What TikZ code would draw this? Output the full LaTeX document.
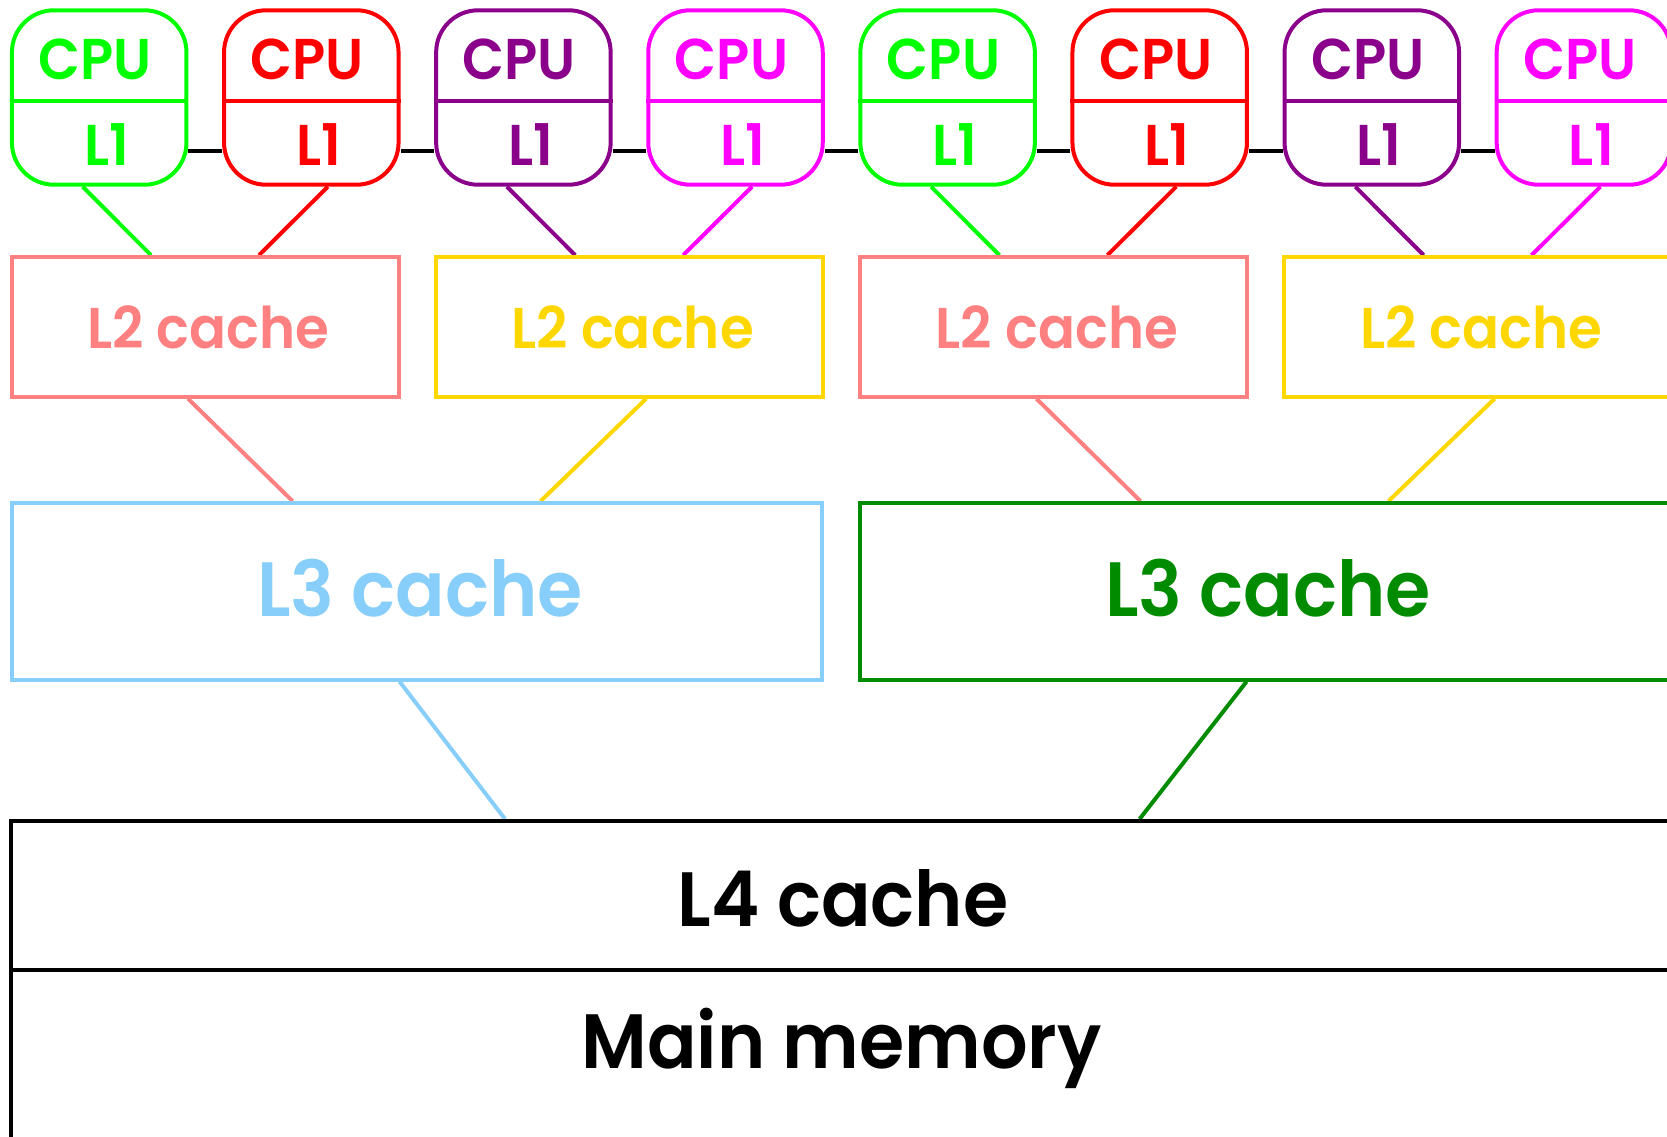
\documentclass[tikz,border=0pt]{standalone}
\usepackage{fontspec}
\setmainfont{Poppins}[BoldFont={Poppins SemiBold}, FakeStretch=0.95]
\usetikzlibrary{backgrounds}

\definecolor{cpulime}{HTML}{00FF00}
\definecolor{cpured}{HTML}{FF0000}
\definecolor{cpupurple}{HTML}{8B008B}
\definecolor{cpumagenta}{HTML}{FF00FF}
\definecolor{l2salmon}{HTML}{FF8080}
\definecolor{l2gold}{HTML}{FFD700}
\definecolor{l3sky}{HTML}{87CEFA}
\definecolor{l3green}{HTML}{008B00}

\tikzset{
  core/.style={draw, line width=4pt, fill=white, rounded corners=42pt,
    minimum width=174.5pt, minimum height=174.4pt, inner sep=0pt},
  cachebox/.style={draw, line width=4pt, fill=white, inner sep=0pt},
  smalltext/.style={font=\fontsize{57.5}{57.5}\selectfont\bfseries, inner sep=0pt, anchor=base},
  bigtext/.style={font=\fontsize{77}{77}\selectfont\bfseries, inner sep=0pt, anchor=base},
  wire/.style={line width=4pt},
}

\begin{document}
\begin{tikzpicture}[x=1pt,y=-1pt]
\useasboundingbox (0,0) rectangle (1667,1137);
\clip (0,0) rectangle (1667,1137);

% eight cores, each a CPU with its own L1
\foreach \i/\c in {0/cpulime,1/cpured,2/cpupurple,3/cpumagenta,
                   4/cpulime,5/cpured,6/cpupurple,7/cpumagenta} {
  \pgfmathsetmacro\cx{99.2+212.1*\i}
  \node[core, draw=\c] (cpu\i) at (\cx,97.5) {};
  \draw[\c, line width=4pt] (cpu\i.west |- 0,101.2) -- (cpu\i.east |- 0,101.2);
  \node[smalltext, text=\c] (cput\i) at (\cx-4,80) {CPU};
  \node[smalltext, text=\c] (cpul\i) at (\cx+7.5,165) {L1};
}

% L2 caches, one per pair of cores
\foreach \j/\c in {0/l2salmon,1/l2gold,2/l2salmon,3/l2gold} {
  \pgfmathsetmacro\cx{205+424.2*\j}
  \node[cachebox, draw=\c, minimum width=387pt, minimum height=139.5pt] (l2n\j) at (\cx,326.9) {};
  \node[smalltext, text=\c] (l2t\j) at (\cx+3.5,348) {L2 cache};
}

% L3 caches
\node[cachebox, draw=l3sky, minimum width=809.8pt, minimum height=176.5pt] (l3n0) at (416.6,591.4) {};
\node[bigtext, text=l3sky] (l3t0) at (420,616.7) {L3 cache};
\node[cachebox, draw=l3green, minimum width=809.8pt, minimum height=176.5pt] (l3n1) at (1264.5,591.4) {};
\node[bigtext, text=l3green] (l3t1) at (1268,616.7) {L3 cache};

% shared L4 and main memory
\node[cachebox, draw=black, minimum width=1663pt, minimum height=148.5pt] (l4) at (842,895.25) {};
\node[bigtext] (l4t) at (843,926.7) {L4 cache};
\node[cachebox, draw=black, minimum width=1663pt, minimum height=169pt] (mem) at (842,1054) {};
\node[bigtext] (memt) at (841.5,1068.3) {Main memory};

\begin{scope}[on background layer]
  % interconnect between neighbouring cores
  \foreach \i [evaluate=\i as \k using int(\i+1)] in {0,...,6}
    \draw[wire] (cpu\i.east |- 0,150.5) -- (cpu\k.west |- 0,150.5);

  % cores to L2
  \foreach \i/\p/\s/\c in {0/0/-1/cpulime,1/0/1/cpured,2/1/-1/cpupurple,3/1/1/cpumagenta,
                           4/2/-1/cpulime,5/2/1/cpured,6/3/-1/cpupurple,7/3/1/cpumagenta}
    \draw[wire, \c] ([xshift=\s*16.5pt]cpu\i.south) -- ([xshift=\s*54pt]l2n\p.north);

  % L2 to L3
  \foreach \j/\p/\s/\c in {0/0/-1/l2salmon,1/0/1/l2gold,2/1/-1/l2salmon,3/1/1/l2gold}
    \draw[wire, \c] ([xshift=\s*17pt]l2n\j.south) -- ([xshift=\s*124pt]l3n\p.north);

  % L3 to L4
  \draw[wire, l3sky] ([xshift=-17pt]l3n0.south) -- ([xshift=-337pt]l4.north);
  \draw[wire, l3green] ([xshift=-18pt]l3n1.south) -- ([xshift=297.6pt]l4.north);
\end{scope}
\end{tikzpicture}
\end{document}
